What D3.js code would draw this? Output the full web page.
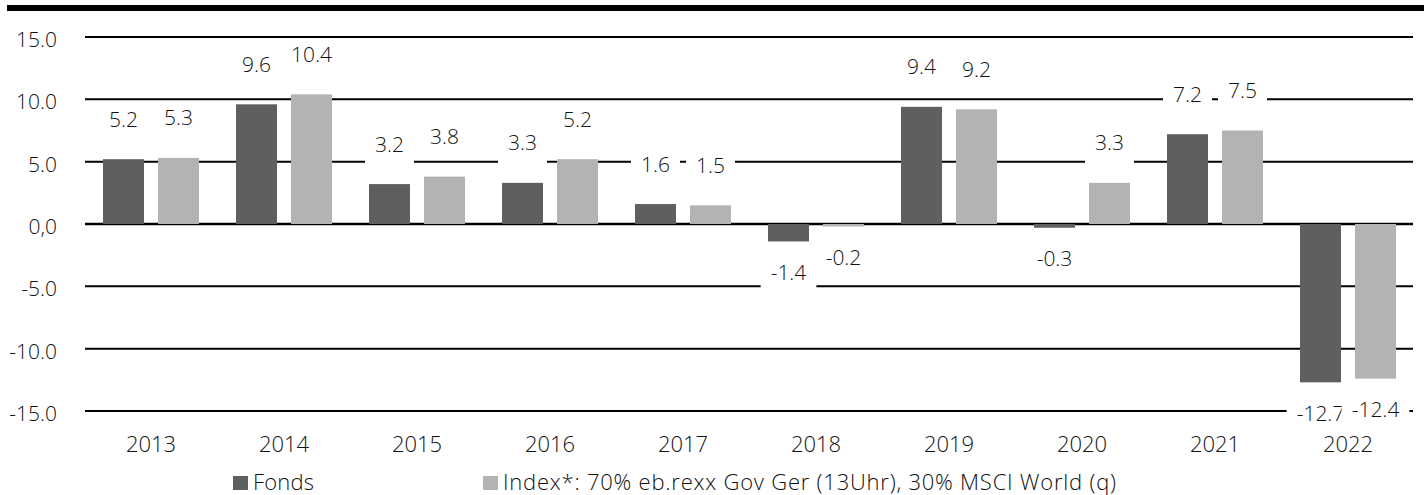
<!DOCTYPE html>
<html>
<head>
<meta charset="utf-8">
<script src="https://cdn.jsdelivr.net/npm/d3@7"></script>
<style>
  body { margin: 0; background: #fff; }
  text { font-family: "Open Sans", sans-serif; font-weight: 300; fill: #111; }
</style>
</head>
<body>
<svg id="chart" width="1424" height="495"></svg>
<script>
// chart values
const years = ['2013','2014','2015','2016','2017','2018','2019','2020','2021','2022'];
const fonds = [5.2, 9.6, 3.2, 3.3, 1.6, -1.4, 9.4, -0.3, 7.2, -12.7];
const index = [5.3, 10.4, 3.8, 5.2, 1.5, -0.2, 9.2, 3.3, 7.5, -12.4];
const yTicks = [15, 10, 5, 0, -5, -10, -15];
const yTickLabels = ['15.0', '10.0', '5.0', '0,0', '-5.0', '-10.0', '-15.0'];
const seriesNames = ['Fonds', 'Index*: 70% eb.rexx Gov Ger (13Uhr), 30% MSCI World (q)'];

const colors = ['#5f5f5f', '#b3b3b3'];

const svg = d3.select('#chart');

let x0 = d3.scaleBand().domain(years).range([84.5, 1414.5]);
let x1 = d3.scaleBand().domain([0, 1]).range([18.5, 114.5]).paddingInner(14 / 55);
let y = d3.scaleLinear().domain([-15, 15]).range([411, 37]);

// top black rule
svg.append('rect')
  .attr('x', 7).attr('y', 5)
  .attr('width', 1424 - 7).attr('height', 6)
  .attr('fill', '#000');

// gridlines
svg.append('g').selectAll('line')
  .data(yTicks)
  .join('line')
  .attr('x1', 85).attr('x2', 1413)
  .attr('y1', d => y(d)).attr('y2', d => y(d))
  .attr('stroke', '#000')
  .attr('stroke-width', d => d === 0 ? 2.5 : 2);

// y tick labels
svg.append('g').selectAll('text')
  .data(yTicks)
  .join('text')
  .attr('x', 57)
  .attr('y', d => y(d) + 10)
  .attr('text-anchor', 'end')
  .attr('font-size', 21)
  .text((d, i) => yTickLabels[i]);

let rows = [];
years.forEach((yr, i) => {
  rows.push({year: yr, s: 0, v: fonds[i]});
  rows.push({year: yr, s: 1, v: index[i]});
});

// bars
svg.append('g').selectAll('rect')
  .data(rows)
  .join('rect')
  .attr('x', d => x0(d.year) + x1(d.s))
  .attr('width', x1.bandwidth())
  .attr('y', d => y(Math.max(0, d.v)))
  .attr('height', d => Math.abs(y(d.v) - y(0)))
  .attr('fill', d => colors[d.s]);

// value labels with white boxes
let labels = svg.append('g').selectAll('g')
  .data(rows)
  .join('g')
  .attr('transform', d => {
    let cx = x0(d.year) + x1(d.s) + x1.bandwidth() / 2;
    let cy = d.v >= 0 ? y(d.v) - 40 : y(d.v) + 31;
    return 'translate(' + cx + ',' + cy + ')';
  });

labels.append('rect').attr('class', 'lbox').attr('fill', '#fff');

labels.append('text')
  .attr('text-anchor', 'middle')
  .attr('y', 7.5)
  .attr('font-size', 21)
  .text(d => d.v.toFixed(1));

labels.each(function() {
  let g = d3.select(this);
  let w = g.select('text').node().getComputedTextLength();
  g.select('rect')
    .attr('x', -w / 2 - 10)
    .attr('width', w + 20)
    .attr('y', -15)
    .attr('height', 37);
});

// year labels
svg.append('g').selectAll('text')
  .data(years)
  .join('text')
  .attr('x', d => x0(d) + x0.bandwidth() / 2)
  .attr('y', 452)
  .attr('text-anchor', 'middle')
  .attr('font-size', 22)
  .text(d => d);

// legend
const legendX = [233, 483];
const legendW = [61, 613];
let legend = svg.append('g').selectAll('g')
  .data(seriesNames)
  .join('g')
  .attr('transform', (d, i) => 'translate(' + legendX[i] + ',476)');

legend.append('rect')
  .attr('width', 15).attr('height', 14)
  .attr('fill', (d, i) => colors[i]);

legend.append('text')
  .attr('x', 20)
  .attr('y', 14)
  .attr('font-size', 22)
  .attr('textLength', (d, i) => legendW[i])
  .attr('lengthAdjust', 'spacing')
  .text(d => d);
</script>
</body>
</html>
